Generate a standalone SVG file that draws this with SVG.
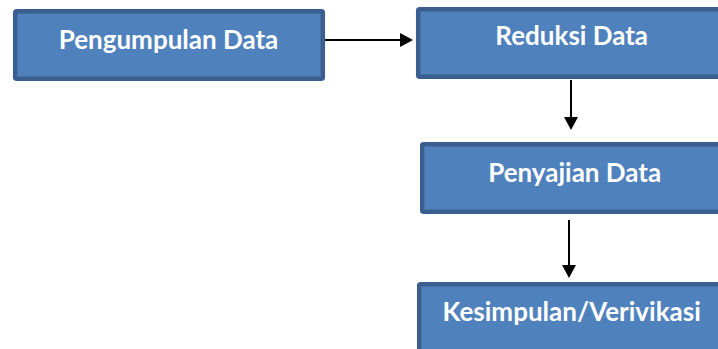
<svg xmlns="http://www.w3.org/2000/svg" width="718" height="349" viewBox="0 0 718 349">
<style>
.box{fill:#4f81bd;stroke:#3a5f8e;stroke-width:4.5}
.lbl{font-family:Lato,"Open Sans","Liberation Sans",sans-serif;font-weight:bold;font-size:26px;fill:#ffffff;text-anchor:middle}
.conn{stroke:#000;stroke-width:2;fill:none}
</style>
<rect width="718" height="349" fill="#ffffff"/>
<g id="connectors">
<line class="conn" x1="325" y1="40" x2="402" y2="40"/>
<path d="M400,33 L413,40 L400,47 z" fill="#000"/>
<line class="conn" x1="571" y1="80" x2="571" y2="119"/>
<path d="M564,117 L571,130 L578,117 z" fill="#000"/>
<line class="conn" x1="569" y1="220" x2="569" y2="267"/>
<path d="M562,265 L569,278 L576,265 z" fill="#000"/>
</g>
<g id="pengumpulan">
<rect class="box" x="15.2" y="11.2" width="307.6" height="67.6" rx="1.5"/>
<text class="lbl" x="168.5" y="49">Pengumpulan Data</text>
</g>
<g id="reduksi">
<rect class="box" x="418.2" y="9.2" width="310" height="67.6" rx="1.5"/>
<text class="lbl" x="571.7" y="45">Reduksi Data</text>
</g>
<g id="penyajian">
<rect class="box" x="422.2" y="144.2" width="310" height="67.6" rx="1.5"/>
<text class="lbl" x="574.7" y="181.7">Penyajian Data</text>
</g>
<g id="kesimpulan">
<rect class="box" x="419.2" y="284.2" width="310" height="80" rx="1.5"/>
<text class="lbl" x="571.7" y="320.7">Kesimpulan/Verivikasi</text>
</g>
</svg>
